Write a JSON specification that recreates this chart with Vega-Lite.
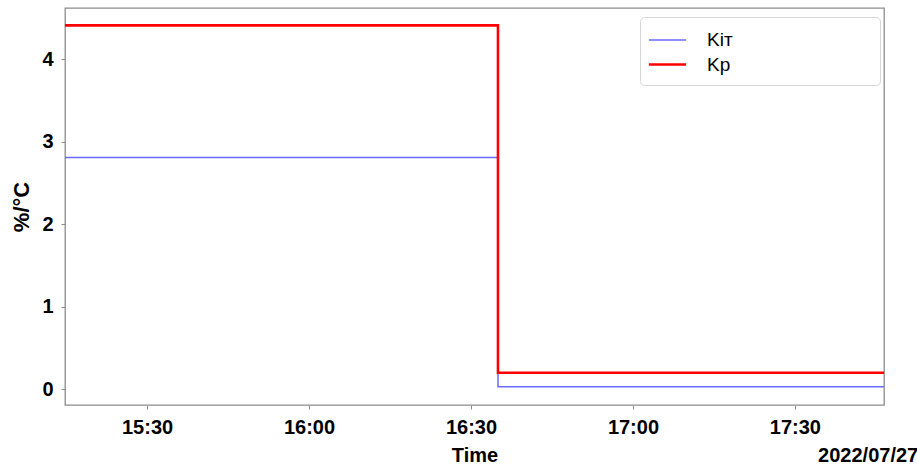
{
  "$schema": "https://vega.github.io/schema/vega-lite/v6.json",
  "width": 819,
  "height": 397,
  "autosize": {"type": "none"},
  "padding": {"left": 65, "top": 8, "right": 33, "bottom": 61},
  "background": "white",
  "config": {
    "font": "Liberation Sans",
    "view": {"stroke": "#8c8c8c", "strokeWidth": 1.3},
    "axis": {
      "domain": false,
      "grid": false,
      "ticks": true,
      "tickColor": "#8c8c8c",
      "tickSize": 4,
      "labelFont": "Liberation Sans",
      "labelFontSize": 20,
      "labelFontWeight": "bold",
      "labelColor": "black",
      "titleFont": "Liberation Sans",
      "titleFontWeight": "bold",
      "titleColor": "black"
    }
  },
  "title": {
    "text": "2022/07/27",
    "orient": "bottom",
    "anchor": "end",
    "font": "Liberation Sans",
    "fontSize": 20,
    "fontWeight": "bold",
    "color": "black",
    "offset": -19,
    "dx": 29
  },
  "data": {
    "values": [
      {"t": "2022-07-27T15:14:48", "v": 2.81, "s": "Kiᴛ"},
      {"t": "2022-07-27T16:35:00", "v": 0.03, "s": "Kiᴛ"},
      {"t": "2022-07-27T17:46:30", "v": 0.03, "s": "Kiᴛ"},
      {"t": "2022-07-27T15:14:48", "v": 4.41, "s": "Kp"},
      {"t": "2022-07-27T16:35:00", "v": 0.2, "s": "Kp"},
      {"t": "2022-07-27T17:46:30", "v": 0.2, "s": "Kp"}
    ]
  },
  "mark": {"type": "line", "interpolate": "step-after"},
  "encoding": {
    "x": {
      "field": "t",
      "type": "temporal",
      "title": "Time",
      "scale": {
        "domain": [
          {"year": 2022, "month": 7, "date": 27, "hours": 15, "minutes": 14, "seconds": 48},
          {"year": 2022, "month": 7, "date": 27, "hours": 17, "minutes": 46, "seconds": 30}
        ]
      },
      "axis": {
        "values": [
          {"year": 2022, "month": 7, "date": 27, "hours": 15, "minutes": 30},
          {"year": 2022, "month": 7, "date": 27, "hours": 16, "minutes": 0},
          {"year": 2022, "month": 7, "date": 27, "hours": 16, "minutes": 30},
          {"year": 2022, "month": 7, "date": 27, "hours": 17, "minutes": 0},
          {"year": 2022, "month": 7, "date": 27, "hours": 17, "minutes": 30}
        ],
        "format": "%H:%M",
        "labelPadding": 8,
        "titleFontSize": 20,
        "titlePadding": 8
      }
    },
    "y": {
      "field": "v",
      "type": "quantitative",
      "title": "%/°C",
      "scale": {"domain": [-0.19, 4.62], "nice": false, "zero": false},
      "axis": {
        "values": [0, 1, 2, 3, 4],
        "labelPadding": 8,
        "titleFontSize": 22,
        "titlePadding": 8
      }
    },
    "color": {
      "field": "s",
      "type": "nominal",
      "scale": {"domain": ["Kiᴛ", "Kp"], "range": ["#6a6aff", "#ff0000"]},
      "legend": {
        "title": null,
        "orient": "none",
        "legendX": 575,
        "legendY": 9,
        "symbolType": "M-1.55,0H1.55",
        "symbolSize": 576,
        "symbolOffset": 4,
        "symbolStrokeWidth": 2,
        "labelFont": "Liberation Sans",
        "labelFontSize": 19,
        "labelColor": "black",
        "labelExpr": "datum.label + '\u00a0\u00a0\u00a0\u00a0\u00a0\u00a0\u00a0\u00a0\u00a0\u00a0\u00a0\u00a0\u00a0\u00a0\u00a0\u00a0\u00a0\u00a0\u00a0\u00a0\u00a0\u00a0\u00a0\u00a0\u00a0\u00a0\u200b'",
        "rowPadding": 1,
        "labelOffset": 26,
        "padding": 10,
        "strokeColor": "#d6d6d6",
        "cornerRadius": 4,
        "fillColor": "white",
        "labelLimit": 300
      }
    },
    "strokeWidth": {
      "field": "s",
      "type": "nominal",
      "scale": {"domain": ["Kiᴛ", "Kp"], "range": [1.5, 2.6]},
      "legend": null
    },
    "order": {"field": "t", "type": "temporal"}
  }
}
